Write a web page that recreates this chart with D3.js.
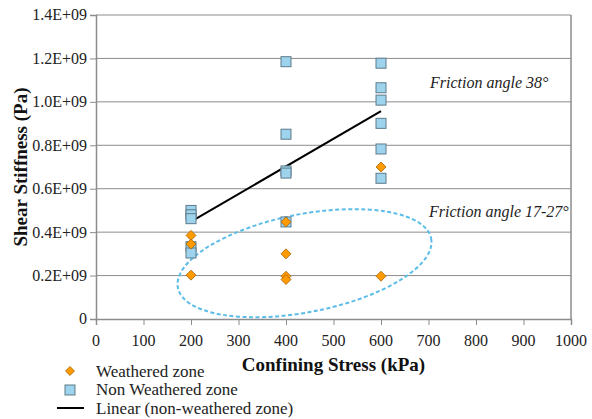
<!DOCTYPE html>
<html>
<head>
<meta charset="utf-8">
<script src="https://cdn.jsdelivr.net/npm/d3@7"></script>
</head>
<body style="margin:0">
<svg id="chart" width="592" height="419"></svg>
<script>
// Confining stress (kPa) vs shear stiffness (Pa)
const xTicks = [0, 100, 200, 300, 400, 500, 600, 700, 800, 900, 1000];
const yTicks = [0, 0.2e9, 0.4e9, 0.6e9, 0.8e9, 1.0e9, 1.2e9, 1.4e9];
const yTickLabels = ["0", "0.2E+09", "0.4E+09", "0.6E+09", "0.8E+09", "1.0E+09", "1.2E+09", "1.4E+09"];

const weatheredStress = [200, 200, 200, 400, 400, 400, 400, 600, 600];
const weatheredStiffness = [0.385e9, 0.345e9, 0.202e9, 0.447e9, 0.300e9, 0.197e9, 0.182e9, 0.700e9, 0.197e9];

const nonWeatheredStress = [200, 200, 200, 200, 200, 400, 400, 400, 400, 400, 600, 600, 600, 600, 600, 600];
const nonWeatheredStiffness = [0.500e9, 0.480e9, 0.462e9, 0.333e9, 0.304e9,
                               1.185e9, 0.851e9, 0.682e9, 0.672e9, 0.447e9,
                               1.178e9, 1.065e9, 1.008e9, 0.901e9, 0.783e9, 0.648e9];

const svg = d3.select("#chart");
const W = 592, H = 419;
const margin = { left: 96, right: 21, top: 15, bottom: 100 };

const x = d3.scaleLinear().domain([0, 1000]).range([margin.left, W - margin.right]);
const y = d3.scaleLinear().domain([0, 1.4e9]).range([H - margin.bottom, margin.top]);

const gridColor = "#8c8c8c";

// small helper: serif label
function label(parent, txt, size) {
  return parent.append("text")
    .attr("font-size", size)
    .style("font-family", "'Times New Roman', 'Liberation Serif', Tinos")
    .attr("fill", "#222")
    .text(txt);
}

// horizontal gridlines (top one doubles as the frame)
svg.append("g").selectAll("line").data(yTicks.slice(1)).join("line")
  .attr("x1", x(0)).attr("x2", x(1000))
  .attr("y1", d => y(d)).attr("y2", d => y(d))
  .attr("stroke", gridColor).attr("stroke-width", 1);

// right frame edge
svg.append("line")
  .attr("x1", x(1000)).attr("x2", x(1000))
  .attr("y1", y(1.4e9)).attr("y2", y(0))
  .attr("stroke", gridColor).attr("stroke-width", 1.5);

// y axis: line and ticks from d3.axisLeft, labels drawn separately
const yAxis = d3.axisLeft(y).tickValues(yTicks).tickSize(6).tickFormat("");
const gy = svg.append("g").attr("transform", `translate(${x(0)},0)`).call(yAxis);
gy.select(".domain").attr("stroke", gridColor).attr("stroke-width", 1.5);
gy.selectAll(".tick line").attr("stroke", gridColor);
yTicks.forEach((v, i) => {
  label(svg, yTickLabels[i], 16)
    .attr("x", x(0) - 9).attr("y", y(v)).attr("dy", "0.34em")
    .attr("text-anchor", "end");
});

// x axis
const xAxis = d3.axisBottom(x).tickValues(xTicks).tickSize(6).tickFormat("");
const gx = svg.append("g").attr("transform", `translate(0,${y(0)})`).call(xAxis);
gx.select(".domain").attr("stroke", gridColor).attr("stroke-width", 1.5);
gx.selectAll(".tick line").attr("stroke", gridColor);
xTicks.forEach(v => {
  label(svg, String(v), 16)
    .attr("x", x(v)).attr("y", y(0) + 27)
    .attr("text-anchor", "middle");
});

// axis titles
label(svg, "Confining Stress (kPa)", 19)
  .attr("x", (x(0) + x(1000)) / 2).attr("y", 371)
  .attr("text-anchor", "middle").attr("font-weight", "bold").attr("fill", "#111");

label(svg, "Shear Stiffness (Pa)", 19)
  .attr("transform", `translate(27,${(y(0) + y(1.4e9)) / 2}) rotate(-90)`)
  .attr("text-anchor", "middle").attr("font-weight", "bold").attr("fill", "#111");

// dashed ellipse around the weathered-zone points
const ellipse = { cx: 439, cy: 0.257e9, rx: 129, ry: 49, angle: -11 };
svg.append("ellipse")
  .attr("transform", `translate(${x(ellipse.cx)},${y(ellipse.cy)}) rotate(${ellipse.angle})`)
  .attr("rx", ellipse.rx).attr("ry", ellipse.ry)
  .attr("fill", "none").attr("stroke", "#5bbde8").attr("stroke-width", 2)
  .attr("stroke-dasharray", "4,2.5");

// least-squares fit of the non-weathered points
const nw = nonWeatheredStress.map((s, i) => [s, nonWeatheredStiffness[i]]);
const mx = d3.mean(nw, d => d[0]), my = d3.mean(nw, d => d[1]);
const slope = d3.sum(nw, d => (d[0] - mx) * (d[1] - my)) / d3.sum(nw, d => (d[0] - mx) ** 2);
const fit = s => my + slope * (s - mx);
const [fx0, fx1] = d3.extent(nonWeatheredStress);
svg.append("line")
  .attr("x1", x(fx0)).attr("y1", y(fit(fx0)))
  .attr("x2", x(fx1)).attr("y2", y(fit(fx1)))
  .attr("stroke", "#000").attr("stroke-width", 2);

// non-weathered markers (squares)
const sq = 10;
svg.append("g").selectAll("rect").data(nw).join("rect")
  .attr("x", d => x(d[0]) - sq / 2).attr("y", d => y(d[1]) - sq / 2)
  .attr("width", sq).attr("height", sq)
  .attr("fill", "#9dd3ec").attr("stroke", "#5e7b8a").attr("stroke-width", 1);

// weathered markers (diamonds)
const wz = weatheredStress.map((s, i) => [s, weatheredStiffness[i]]);
svg.append("g").selectAll("path").data(wz).join("path")
  .attr("transform", d => `translate(${x(d[0])},${y(d[1])}) rotate(45)`)
  .attr("d", d3.symbol().type(d3.symbolSquare).size(50))
  .attr("fill", "#ff9a00").attr("stroke", "#a8680a").attr("stroke-width", 0.8);

// annotations
label(svg, "Friction angle 38°", 16)
  .attr("x", 430).attr("y", 87.5).attr("font-style", "italic");
label(svg, "Friction angle 17-27°", 16)
  .attr("x", 429).attr("y", 216.5).attr("font-style", "italic");

// legend
const lg = svg.append("g");
lg.append("path")
  .attr("transform", "translate(70,371) rotate(45)")
  .attr("d", d3.symbol().type(d3.symbolSquare).size(40))
  .attr("fill", "#ff9a00").attr("stroke", "#a8680a").attr("stroke-width", 0.8);
lg.append("rect").attr("x", 65).attr("y", 385).attr("width", 10).attr("height", 10)
  .attr("fill", "#9dd3ec").attr("stroke", "#5e7b8a").attr("stroke-width", 1);
lg.append("line").attr("x1", 57).attr("x2", 84).attr("y1", 408).attr("y2", 408)
  .attr("stroke", "#000").attr("stroke-width", 2);
const legendItems = ["Weathered zone", "Non Weathered zone", "Linear (non-weathered zone)"];
legendItems.forEach((t, i) => {
  label(lg, t, 17).attr("x", 96).attr("y", 377 + i * 18.3);
});
</script>
</body>
</html>
